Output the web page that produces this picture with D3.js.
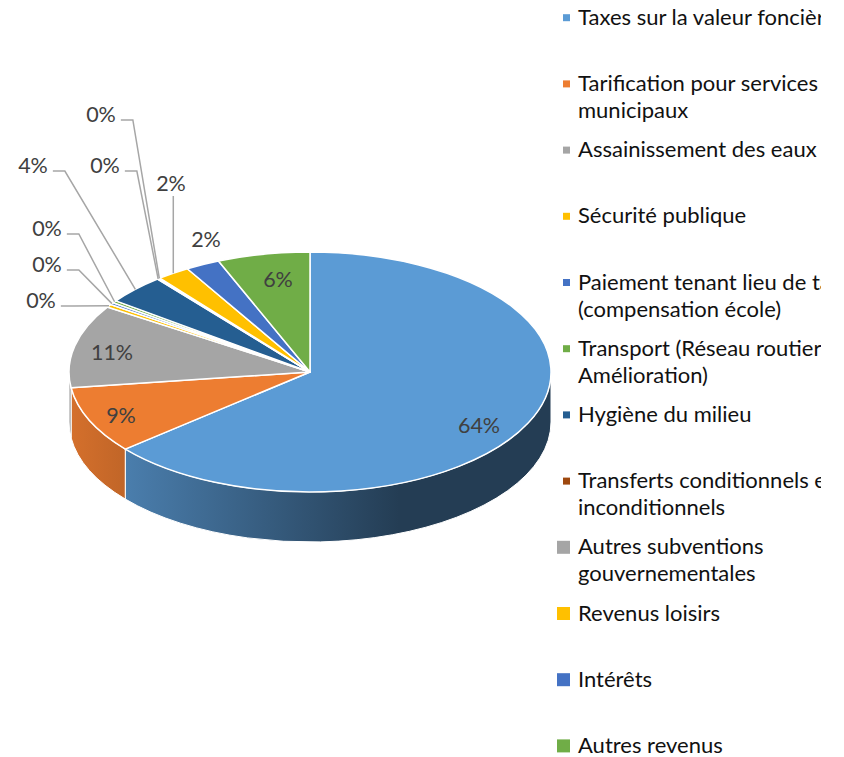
<!DOCTYPE html>
<html>
<head>
<meta charset="utf-8">
<script src="https://cdn.jsdelivr.net/npm/d3@7"></script>
<style>
  body { margin: 0; background: #fff; }
  svg { display: block; }
</style>
</head>
<body>
<div id="chart"></div>
<script>
// categories in legend / slice order (line breaks where the legend wraps)
const categories = [
    "Taxes sur la valeur foncière",
    "Tarification pour services\nmunicipaux",
    "Assainissement des eaux",
    "Sécurité publique",
    "Paiement tenant lieu de taxes\n(compensation école)",
    "Transport (Réseau routier -\nAmélioration)",
    "Hygiène du milieu",
    "Transferts conditionnels et\ninconditionnels",
    "Autres subventions\ngouvernementales",
    "Revenus loisirs",
    "Intérêts",
    "Autres revenus"
];
// share of revenues, in %
const values = [63.9, 9.0, 11.2, 0.4, 0.3, 0.3, 4.0, 0.1, 0.1, 2.2, 2.3, 6.2];
const colors = ["#5B9BD5", "#ED7D31", "#A5A5A5", "#FFC000", "#4472C4", "#70AD47",
                "#255E91", "#9E480E", "#A5A5A5", "#FFC000", "#4472C4", "#70AD47"];

// where the data labels were placed (label centres), inside labels have no leader
const labelAt = [[479, 425], [121, 415], [112, 352], [41, 300], [47, 264], [47, 228],
                 [33, 165], [105, 165], [101, 114], [171, 183], [206, 239], [278, 279]];
const hasLeader = [false, false, false, true, true, true, true, true, true, true, false, false];

const W = 844, H = 757;
const cx = 310, cy = 372, rx = 241, ry = 120, depth = 50;

const svg = d3.select("#chart").append("svg")
    .attr("width", W)
    .attr("height", H);

const defs = svg.append("defs");

const data = categories.map((c, i) => ({name: c, value: values[i], color: colors[i], i: i}));

const pie = d3.pie()
    .sort(null)
    .value(d => d.value)
    .startAngle(0)
    .endAngle(2 * Math.PI);
const arcs = pie(data);

// projected point on the tilted ellipse, angle clockwise from 12 o'clock
function pt(a, z) {
    return [cx + rx * Math.sin(a), cy - ry * Math.cos(a) + z];
}

function topPath(d) {
    const p0 = pt(d.startAngle, 0), p1 = pt(d.endAngle, 0);
    const large = (d.endAngle - d.startAngle) > Math.PI ? 1 : 0;
    return `M${cx},${cy}L${p0}A${rx},${ry} 0 ${large} 1 ${p1}Z`;
}

function sidePath(d) {
    const s = Math.max(d.startAngle, Math.PI / 2);
    const e = Math.min(d.endAngle, 3 * Math.PI / 2);
    if (e <= s) return null;
    const large = (e - s) > Math.PI ? 1 : 0;
    return `M${pt(s, 0)}A${rx},${ry} 0 ${large} 1 ${pt(e, 0)}L${pt(e, depth)}A${rx},${ry} 0 ${large} 0 ${pt(s, depth)}Z`;
}

// side shading: lighter on the left, dark towards the right
arcs.forEach(d => {
    const c = d3.color(d.data.color);
    const g = defs.append("linearGradient")
        .attr("id", "side" + d.data.i)
        .attr("gradientUnits", "userSpaceOnUse")
        .attr("x1", cx - rx).attr("x2", cx + rx * 0.37)
        .attr("y1", 0).attr("y2", 0);
    g.append("stop").attr("offset", "0%").attr("stop-color", c.darker(0.3));
    g.append("stop").attr("offset", "100%").attr("stop-color", c.darker(2.6));
});

const pieG = svg.append("g");

pieG.selectAll("path.side")
    .data(arcs.filter(d => sidePath(d)))
    .join("path")
    .attr("class", "side")
    .attr("d", sidePath)
    .attr("fill", d => `url(#side${d.data.i})`)
    .attr("stroke", "#fff")
    .attr("stroke-width", 1);

pieG.selectAll("path.top")
    .data(arcs)
    .join("path")
    .attr("class", "top")
    .attr("d", topPath)
    .attr("fill", d => d.data.color)
    .attr("stroke", "#fff")
    .attr("stroke-width", 1.5)
    .attr("stroke-linejoin", "round");

// data labels
const fmt = d3.format(".0%");
const labelFont = 21.5;
const labG = svg.append("g")
    .style("font-family", "Lato, 'Open Sans', sans-serif")
    .style("font-size", labelFont + "px")
    .style("fill", "#404040");

const labels = labG.selectAll("text")
    .data(arcs)
    .join("text")
    .attr("x", d => labelAt[d.data.i][0])
    .attr("y", d => labelAt[d.data.i][1])
    .attr("dy", "0.36em")
    .attr("text-anchor", "middle")
    .text(d => fmt(d.data.value / 100));

// leader lines
const leaders = [];
labels.each(function(d) {
    if (!hasLeader[d.data.i]) return;
    const w = this.getComputedTextLength();
    const [lx, ly] = labelAt[d.data.i];
    const mid = (d.startAngle + d.endAngle) / 2;
    const t = pt(mid, 0);
    let pts;
    if (Math.abs(t[0] - lx) < w / 2) {
        pts = [[t[0], ly + 13], t];
    } else {
        const s = [lx + w / 2 + 5, ly + 6];
        pts = [s, [s[0] + 12, s[1]], t];
    }
    leaders.push(pts);
});

svg.insert("g", () => labG.node())
    .selectAll("path")
    .data(leaders)
    .join("path")
    .attr("d", d3.line())
    .attr("fill", "none")
    .attr("stroke", "#A6A6A6")
    .attr("stroke-width", 1.5);

// legend (clipped on the right like the original)
defs.append("clipPath").attr("id", "legendClip")
    .append("rect")
    .attr("x", 540).attr("y", 0)
    .attr("width", 821 - 540).attr("height", H);

const legendFont = 22;
const legend = svg.append("g")
    .attr("clip-path", "url(#legendClip)")
    .style("font-family", "Lato, 'Open Sans', sans-serif")
    .style("font-size", legendFont + "px")
    .style("fill", "#111");

const rowStep = 66.2, row0 = 17.7;

const items = legend.selectAll("g")
    .data(data)
    .join("g")
    .attr("transform", d => `translate(0,${row0 + rowStep * d.i})`);

items.append("rect")
    .attr("x", d => 570 - (d.i >= 8 ? 13 : 7))
    .attr("y", d => -(d.i >= 8 ? 13 : 7) / 2)
    .attr("width", d => d.i >= 8 ? 13 : 7)
    .attr("height", d => d.i >= 8 ? 13 : 7)
    .attr("fill", d => d.color);

items.append("text")
    .attr("x", 578)
    .attr("y", 7)
    .selectAll("tspan")
    .data(d => d.name.split("\n"))
    .join("tspan")
    .attr("x", 578)
    .attr("dy", (d, j) => j === 0 ? 0 : 27)
    .text(d => d);
</script>
</body>
</html>
